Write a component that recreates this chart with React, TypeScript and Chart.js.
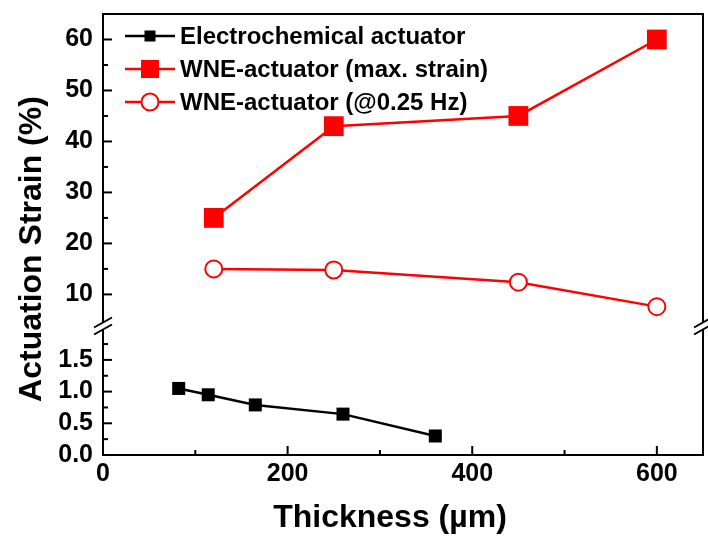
import React, { useEffect, useRef } from 'react';
import { Chart, registerables } from 'chart.js';

Chart.register(...registerables);

// ---- data ----
const ecThickness = [82, 114, 165, 260, 360];
const ecStrain = [1.05, 0.95, 0.79, 0.645, 0.3];
const wneThickness = [120, 250, 450, 600];
const wneMaxStrain = [25, 43, 45, 60];
const wne025Strain = [15, 14.8, 12.4, 7.6];

const xTicks = [0, 200, 400, 600];
const xMinorTicks = [100, 300, 500];
const yHighTicks = [10, 20, 30, 40, 50, 60];
const yHighMinorTicks = [15, 25, 35, 45, 55];
const yLowTicks = [0, 0.5, 1.0, 1.5];
const yLowMinorTicks = [0.25, 0.75, 1.25, 1.75];

const seriesNames = ['Electrochemical actuator', 'WNE-actuator (max. strain)', 'WNE-actuator (@0.25 Hz)'];
const yTitle = 'Actuation Strain (%)';
const xTitle = 'Thickness (µm)';

const FONT = "'Liberation Sans', Arial, sans-serif";
const RED = '#ff0000';

const zeroPad = (s: any) => {
  s.paddingLeft = 0;
  s.paddingRight = 0;
  s.paddingTop = 0;
  s.paddingBottom = 0;
};

const decorPlugin = {
  id: 'decor',
  afterDraw(chart: any) {
    const ctx = chart.ctx;
    const ca = chart.chartArea;
    ctx.save();
    // frame
    ctx.strokeStyle = '#000';
    ctx.lineWidth = 2;
    ctx.strokeRect(ca.left, ca.top, ca.right - ca.left, ca.bottom - ca.top);

    // inside ticks
    const drawTicks = (id: string, values: number[], len: number) => {
      const s = chart.scales[id];
      values.forEach((v) => {
        ctx.beginPath();
        if (id === 'x') {
          const px = s.getPixelForValue(v);
          ctx.moveTo(px, ca.bottom);
          ctx.lineTo(px, ca.bottom - len);
        } else {
          const py = s.getPixelForValue(v);
          ctx.moveTo(ca.left, py);
          ctx.lineTo(ca.left + len, py);
        }
        ctx.stroke();
      });
    };
    drawTicks('x', xTicks, 9);
    drawTicks('x', xMinorTicks, 5);
    drawTicks('yHigh', yHighTicks, 9);
    drawTicks('yHigh', yHighMinorTicks, 5);
    drawTicks('yLow', yLowTicks, 9);
    drawTicks('yLow', yLowMinorTicks, 5);

    // axis break marks
    const yb = chart.scales.yHigh.bottom;
    [ca.left, ca.right].forEach((x) => {
      ctx.fillStyle = '#fff';
      ctx.fillRect(x - 3, yb - 4, 6, 8);
      ctx.strokeStyle = '#000';
      ctx.lineWidth = 2;
      [-3.5, 3.5].forEach((d) => {
        ctx.beginPath();
        ctx.moveTo(x - 9, yb + d + 5);
        ctx.lineTo(x + 9, yb + d - 5);
        ctx.stroke();
      });
    });

    // titles
    ctx.fillStyle = '#000';
    ctx.font = `bold 32px ${FONT}`;
    ctx.textAlign = 'center';
    ctx.textBaseline = 'alphabetic';
    ctx.fillText(xTitle, 390, 527);
    ctx.save();
    ctx.translate(41, 249);
    ctx.rotate(-Math.PI / 2);
    ctx.fillText(yTitle, 0, 0);
    ctx.restore();

    // legend
    const rows = [
      { color: '#000', marker: 'rect', size: 11, fill: '#000' },
      { color: RED, marker: 'rect', size: 18, fill: RED },
      { color: RED, marker: 'circle', size: 17, fill: '#fff' },
    ];
    ctx.font = `bold 24px ${FONT}`;
    ctx.textAlign = 'left';
    ctx.textBaseline = 'middle';
    rows.forEach((r, i) => {
      const y = 36 + 33 * i;
      ctx.strokeStyle = r.color;
      ctx.lineWidth = 2.5;
      ctx.beginPath();
      ctx.moveTo(125, y);
      ctx.lineTo(175, y);
      ctx.stroke();
      if (r.marker === 'rect') {
        ctx.fillStyle = r.fill;
        ctx.fillRect(150 - r.size / 2, y - r.size / 2, r.size, r.size);
      } else {
        ctx.beginPath();
        ctx.arc(150, y, r.size / 2, 0, Math.PI * 2);
        ctx.fillStyle = r.fill;
        ctx.fill();
        ctx.lineWidth = 2;
        ctx.strokeStyle = r.color;
        ctx.stroke();
      }
      ctx.fillStyle = '#000';
      ctx.fillText(seriesNames[i], 180, y + 1);
    });
    ctx.restore();
  },
};

export default function App() {
  const ref = useRef<HTMLCanvasElement>(null);
  useEffect(() => {
    if (!ref.current) return;
    const tickFont = { family: FONT, size: 25, weight: 'bold' as const };
    const chart = new Chart(ref.current, {
      type: 'line',
      data: {
        datasets: [
          {
            label: seriesNames[0],
            data: ecThickness.map((x, i) => ({ x, y: ecStrain[i] })),
            yAxisID: 'yLow',
            borderColor: '#000',
            backgroundColor: '#000',
            borderWidth: 2.5,
            pointStyle: 'rect',
            pointRadius: 9.2,
            pointBorderWidth: 0,
            tension: 0,
          },
          {
            label: seriesNames[1],
            data: wneThickness.map((x, i) => ({ x, y: wneMaxStrain[i] })),
            yAxisID: 'yHigh',
            borderColor: RED,
            backgroundColor: RED,
            borderWidth: 2.5,
            pointStyle: 'rect',
            pointRadius: 14,
            pointBorderWidth: 0,
            tension: 0,
          },
          {
            label: seriesNames[2],
            data: wneThickness.map((x, i) => ({ x, y: wne025Strain[i] })),
            yAxisID: 'yHigh',
            borderColor: RED,
            backgroundColor: '#fff',
            borderWidth: 2.5,
            pointStyle: 'circle',
            pointRadius: 8.5,
            pointBorderWidth: 2,
            tension: 0,
          },
        ],
      },
      options: {
        animation: false,
        responsive: false,
        maintainAspectRatio: false,
        layout: { autoPadding: false, padding: { top: 14, right: 5, left: 0, bottom: 0 } },
        plugins: { legend: { display: false }, tooltip: { enabled: false } },
        scales: {
          x: {
            type: 'linear',
            min: 0,
            max: 650,
            afterBuildTicks: (s: any) => { s.ticks = xTicks.map((v) => ({ value: v })); },
            afterFit: (s: any) => { s.height = 81; zeroPad(s); },
            ticks: { font: tickFont, color: '#000', padding: 4, maxRotation: 0, autoSkip: false, callback: (v: any) => String(v) },
            grid: { display: false, drawTicks: false },
            border: { display: true, color: '#000', width: 2 },
          },
          yLow: {
            type: 'linear',
            position: 'left',
            stack: 'strain',
            stackWeight: 129,
            min: 0,
            max: 2.035,
            afterBuildTicks: (s: any) => { s.ticks = yLowTicks.map((v) => ({ value: v })); },
            afterFit: (s: any) => { s.width = 103; zeroPad(s); },
            ticks: { font: tickFont, color: '#000', padding: 10, autoSkip: false, callback: (v: any) => Number(v).toFixed(1) },
            grid: { display: false, drawTicks: false },
            border: { display: true, color: '#000', width: 2 },
          },
          yHigh: {
            type: 'linear',
            position: 'left',
            stack: 'strain',
            stackWeight: 312,
            min: 3.8,
            max: 65,
            afterBuildTicks: (s: any) => { s.ticks = yHighTicks.map((v) => ({ value: v })); },
            afterFit: (s: any) => { s.width = 103; zeroPad(s); },
            ticks: { font: tickFont, color: '#000', padding: 10, autoSkip: false, callback: (v: any) => String(v) },
            grid: { display: false, drawTicks: false },
            border: { display: true, color: '#000', width: 2 },
          },
        },
      },
      plugins: [decorPlugin],
    });
    return () => chart.destroy();
  }, []);
  return (
    <div style={{ position: 'fixed', left: 0, top: 0, width: 708, height: 536, background: '#fff' }}>
      <canvas ref={ref} width={708} height={536} style={{ width: 708, height: 536 }} />
    </div>
  );
}
